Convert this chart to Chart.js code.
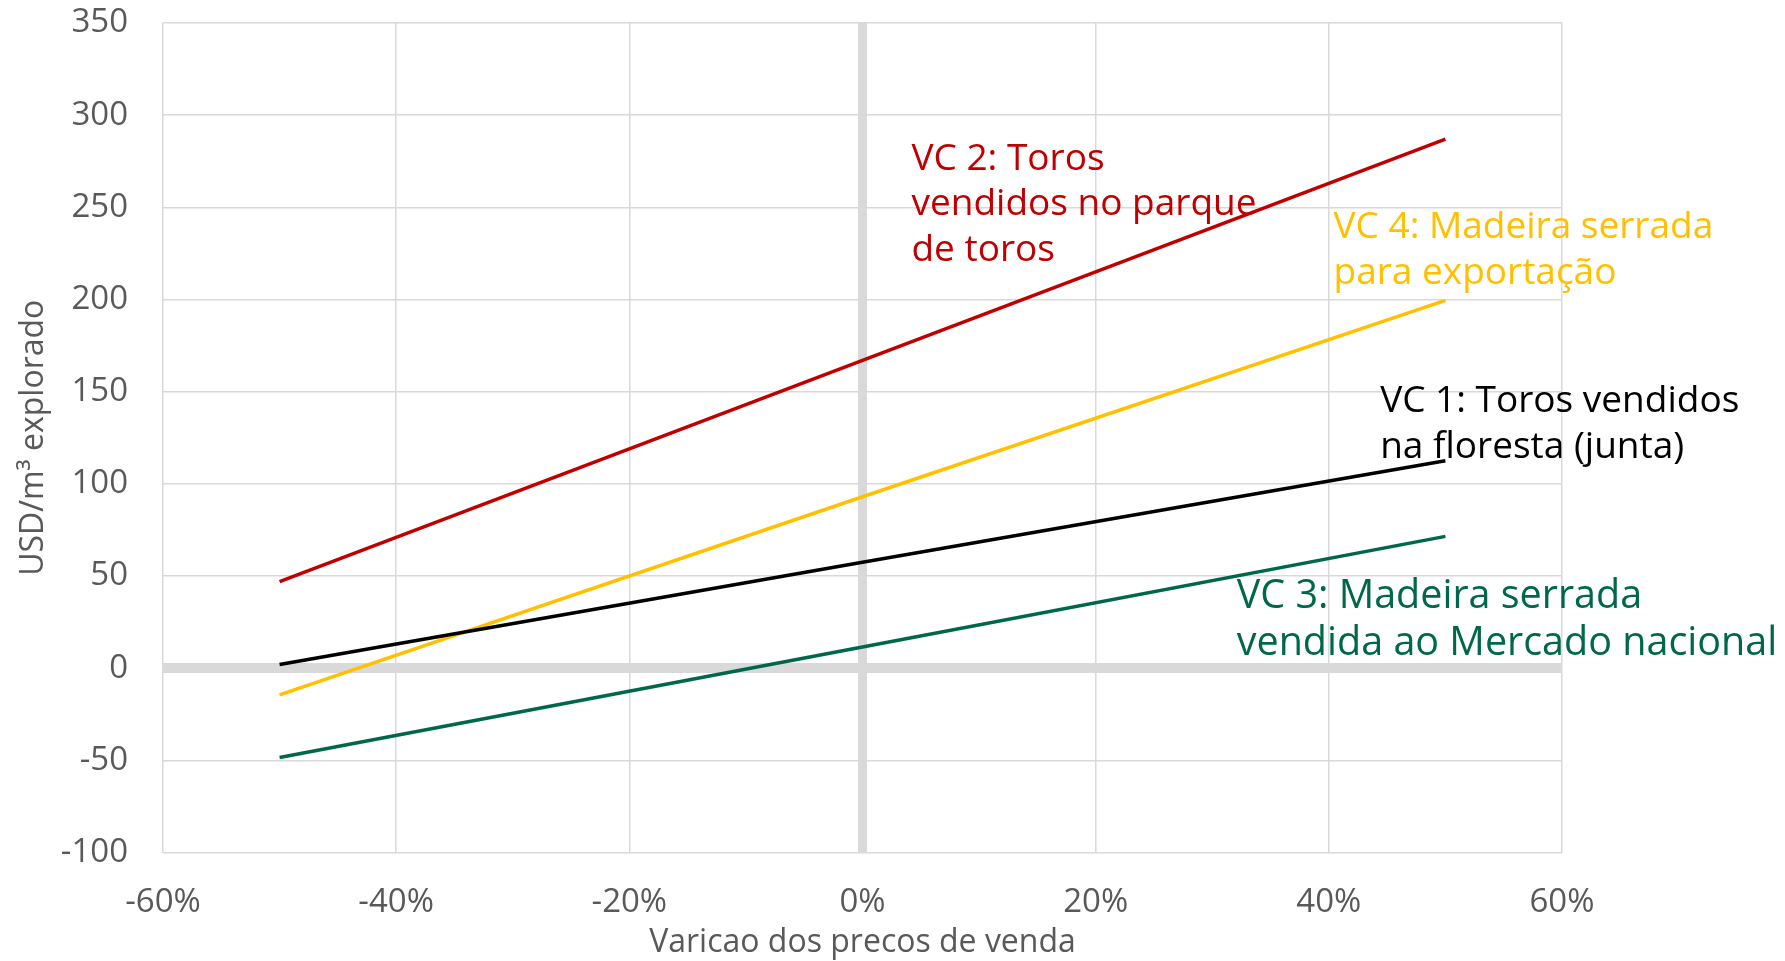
<!DOCTYPE html>
<html>
<head>
<meta charset="utf-8">
<script src="https://cdn.jsdelivr.net/npm/chart.js@4"></script>
<style>
  html, body { margin: 0; padding: 0; background: #fff; }
  #wrap { width: 1785px; height: 961px; }
</style>
</head>
<body>
<div id="wrap"><canvas id="chart" width="1785" height="961"></canvas></div>
<script>
// price variation (%) at which the values were read
const priceChange = [-50, 0, 50];

// USD per m³ explored, one array per value chain
const vc1Forest = [2, 57.5, 112.5];
const vc2LogYard = [47, 167, 287];
const vc3National = [-48.5, 11.5, 71.5];
const vc4Export = [-14.5, 93, 199.5];

const xTicks = [-60, -40, -20, 0, 20, 40, 60];
const yTicks = [-100, -50, 0, 50, 100, 150, 200, 250, 300, 350];

const labelVC1 = ['VC 1: Toros vendidos', 'na floresta (junta)'];
const labelVC2 = ['VC 2: Toros', 'vendidos no parque', 'de toros'];
const labelVC3 = ['VC 3: Madeira serrada', 'vendida ao Mercado nacional'];
const labelVC4 = ['VC 4: Madeira serrada', 'para exportação'];

const COLORS = { vc1: '#000000', vc2: '#c00000', vc3: '#00684a', vc4: '#ffc000' };
const FONT = '"Open Sans", "Noto Sans", sans-serif';
const GRID = '#d9d9d9';
const TICK_COLOR = '#595959';

function toPoints(ys) {
    return ys.map((y, i) => ({ x: priceChange[i], y: y }));
}

// text labels placed in data units (x in %, y in USD) of their first line
const annotations = [
    { lines: labelVC2, color: COLORS.vc2, x: 4.2, y: 276, size: 37, gap: 45.5 },
    { lines: labelVC4, color: COLORS.vc4, x: 40.4, y: 239, size: 37, gap: 45.5 },
    { lines: labelVC1, color: COLORS.vc1, x: 44.4, y: 144.5, size: 37, gap: 45.5 },
    { lines: labelVC3, color: COLORS.vc3, x: 32.1, y: 39, size: 39.5, gap: 47 }
];

const labelPlugin = {
    id: 'vcLabels',
    afterDatasetsDraw(chart) {
        const ctx = chart.ctx;
        const xs = chart.scales.x, ys = chart.scales.y;
        ctx.save();
        ctx.textBaseline = 'middle';
        ctx.textAlign = 'left';
        annotations.forEach(a => {
            const px = xs.getPixelForValue(a.x);
            const py = ys.getPixelForValue(a.y);
            ctx.font = a.size + 'px ' + FONT;
            ctx.fillStyle = a.color;
            a.lines.forEach((line, i) => ctx.fillText(line, px, py + i * a.gap));
        });
        ctx.restore();
    }
};

function lineSet(label, ys, color) {
    return {
        label: label,
        data: toPoints(ys),
        borderColor: color,
        backgroundColor: color,
        borderWidth: 3.5,
        pointRadius: 0,
        tension: 0,
        fill: false
    };
}

new Chart(document.getElementById('chart'), {
    type: 'line',
    data: {
        datasets: [
            lineSet(labelVC1.join(' '), vc1Forest, COLORS.vc1),
            lineSet(labelVC2.join(' '), vc2LogYard, COLORS.vc2),
            lineSet(labelVC3.join(' '), vc3National, COLORS.vc3),
            lineSet(labelVC4.join(' '), vc4Export, COLORS.vc4)
        ]
    },
    options: {
        responsive: false,
        animation: false,
        layout: { padding: { top: 23, right: 223, bottom: 0, left: 0 } },
        plugins: { legend: { display: false }, tooltip: { enabled: false } },
        scales: {
            x: {
                type: 'linear',
                min: -60, max: 60,
                afterBuildTicks: s => { s.ticks = xTicks.map(v => ({ value: v })); },
                afterFit: s => { s.height = 108.5; s.paddingLeft = 0; s.paddingRight = 0; },
                ticks: {
                    color: TICK_COLOR,
                    font: { family: FONT, size: 33 },
                    padding: 30,
                    maxRotation: 0,
                    callback: v => v + '%'
                },
                grid: {
                    color: GRID,
                    drawTicks: false,
                    lineWidth: c => (c.tick && c.tick.value === 0 ? 9 : 1.5)
                },
                border: { display: false },
                title: {
                    display: true,
                    text: 'Varicao dos precos de venda',
                    color: TICK_COLOR,
                    font: { family: FONT, size: 32 },
                    padding: { top: 0, bottom: -1 }
                }
            },
            y: {
                min: -100, max: 350,
                afterBuildTicks: s => { s.ticks = yTicks.map(v => ({ value: v })); },
                afterFit: s => { s.width = 163; s.paddingTop = 0; s.paddingBottom = 0; },
                ticks: {
                    color: TICK_COLOR,
                    font: { family: FONT, size: 33 },
                    padding: 35
                },
                grid: {
                    color: GRID,
                    drawTicks: false,
                    lineWidth: c => (c.tick && c.tick.value === 0 ? 10 : 1.5)
                },
                border: { display: false },
                title: {
                    display: true,
                    text: 'USD/m³ explorado',
                    color: TICK_COLOR,
                    font: { family: FONT, size: 32 },
                    padding: { top: 15, bottom: 0 }
                }
            }
        }
    },
    plugins: [labelPlugin]
});
</script>
</body>
</html>
